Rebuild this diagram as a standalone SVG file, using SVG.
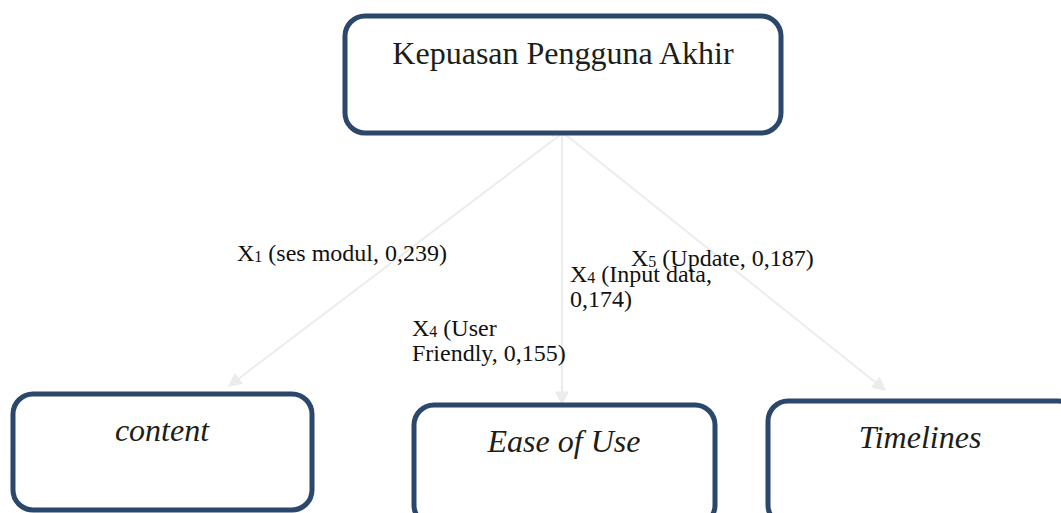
<svg xmlns="http://www.w3.org/2000/svg" width="1061" height="513" viewBox="0 0 1061 513">
  <style>
    .box { fill: #ffffff; stroke: #2b476b; stroke-width: 5; }
    .serif { font-family: "Liberation Serif", "DejaVu Serif", "Noto Serif", serif; }
    .title { font-size: 32px; fill: #1e1e16; }
    .node { font-size: 32px; font-style: italic; fill: #1e1e16; }
    .lbl { font-size: 24px; fill: #111111; }
    .sub { font-size: 16px; }
    .edge { stroke: #ececec; stroke-width: 2; fill: none; marker-end: url(#head); }
  </style>
  <defs>
    <marker id="head" viewBox="0 0 10 10" refX="9" refY="5" markerWidth="14" markerHeight="14" orient="auto" markerUnits="userSpaceOnUse">
      <path d="M0,0 L10,5 L0,10 z" fill="#ececec"/>
    </marker>
  </defs>
  <rect width="1061" height="513" fill="#ffffff"/>

  <g id="connectors">
    <line class="edge" x1="560" y1="135" x2="229" y2="386"/>
    <line class="edge" x1="562" y1="135" x2="562" y2="404"/>
    <line class="edge" x1="566" y1="135" x2="885" y2="390"/>
    <path d="M553,134 v3 M558,134 v3 M566,134 v3" stroke="#e6e6e6" stroke-width="1.5"/>
  </g>

  <g id="kepuasan">
    <rect class="box" x="345" y="16" width="436" height="117" rx="20"/>
    <text class="serif title" x="563" y="64" text-anchor="middle">Kepuasan Pengguna Akhir</text>
  </g>

  <g id="content">
    <rect class="box" x="13" y="394" width="299" height="116" rx="20"/>
    <text class="serif node" x="162" y="441" text-anchor="middle">content</text>
  </g>

  <g id="ease-of-use">
    <rect class="box" x="414" y="405" width="301" height="120" rx="20"/>
    <text class="serif node" x="564" y="452" text-anchor="middle">Ease of Use</text>
  </g>

  <g id="timelines">
    <rect class="box" x="768" y="401" width="310" height="124" rx="20"/>
    <text class="serif node" x="920" y="448" text-anchor="middle">Timelines</text>
  </g>

  <g id="labels" class="serif">
    <text class="lbl" x="237" y="261">X<tspan class="sub" dy="1">1</tspan><tspan dy="-1"> (ses modul, 0,239)</tspan></text>
    <text class="lbl" x="412" y="336">X<tspan class="sub" dy="1">4</tspan><tspan dy="-1"> (User</tspan></text>
    <text class="lbl" x="412" y="361">Friendly, 0,155)</text>
    <text class="lbl" x="570" y="282">X<tspan class="sub" dy="1">4</tspan><tspan dy="-1"> (Input data,</tspan></text>
    <text class="lbl" x="570" y="307">0,174)</text>
    <text class="lbl" x="631" y="266">X<tspan class="sub" dy="1">5</tspan><tspan dy="-1"> (Update, 0,187)</tspan></text>
  </g>
</svg>
